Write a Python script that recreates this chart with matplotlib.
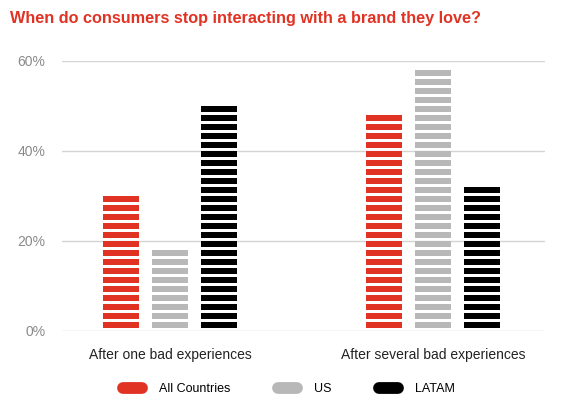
import numpy as np
import matplotlib
matplotlib.use('Agg')
import matplotlib.pyplot as plt
from matplotlib.lines import Line2D

plt.rcParams['font.family'] = ['Liberation Sans', 'DejaVu Sans']

categories = ['After one bad experiences', 'After several bad experiences']
series = ['All Countries', 'US', 'LATAM']
all_countries = [30, 48]
us = [18, 58]
latam = [50, 32]
colors = ['#e03324', '#b8b8b8', '#000000']
yticks = [0, 20, 40, 60]

fig = plt.figure(figsize=(5.61, 4.03), dpi=100)
ax = fig.add_axes([62 / 561, 1 - 331 / 403, 483 / 561, 270 / 403])

x = np.arange(len(categories))
width = 0.137
step = 0.186
period = 2.0
stripe = 1.4

for i, vals in enumerate([all_countries, us, latam]):
    for j, v in enumerate(vals):
        n = int(round(v / period))
        bottoms = v - stripe - period * np.arange(n)
        ax.bar([x[j] + (i - 1) * step] * n, [stripe] * n, width=width,
               bottom=bottoms, color=colors[i], linewidth=0, zorder=3)

ax.set_xlim(-0.411, 1.426)
ax.set_ylim(0, 60)
ax.set_yticks(yticks)
ax.set_yticklabels([f'{t}%' for t in yticks], color='#8a8a8a', fontsize=10)
ax.set_xticks(x)
ax.set_xticklabels(categories, fontsize=10, color='#222222')
ax.tick_params(axis='both', length=0)
ax.tick_params(axis='y', pad=12)
ax.tick_params(axis='x', pad=12)
ax.grid(axis='y', color='#d4d4d4', linewidth=1, zorder=0)
for s in ax.spines.values():
    s.set_visible(False)

fig.text(10 / 561, 1 - 18 / 403, 'When do consumers stop interacting with a brand they love?',
         color='#e03324', fontsize=11.7, fontweight='bold', va='center', ha='left')

handles = [Line2D([], [], color=c, lw=8.5, solid_capstyle='round') for c in colors]
fig.legend(handles, series, loc='center', bbox_to_anchor=(0.515, 1 - 389 / 403),
           ncol=3, frameon=False, fontsize=9, handlelength=1.55,
           handletextpad=1.35, columnspacing=3.8)

fig.savefig('out.png', dpi=100)
